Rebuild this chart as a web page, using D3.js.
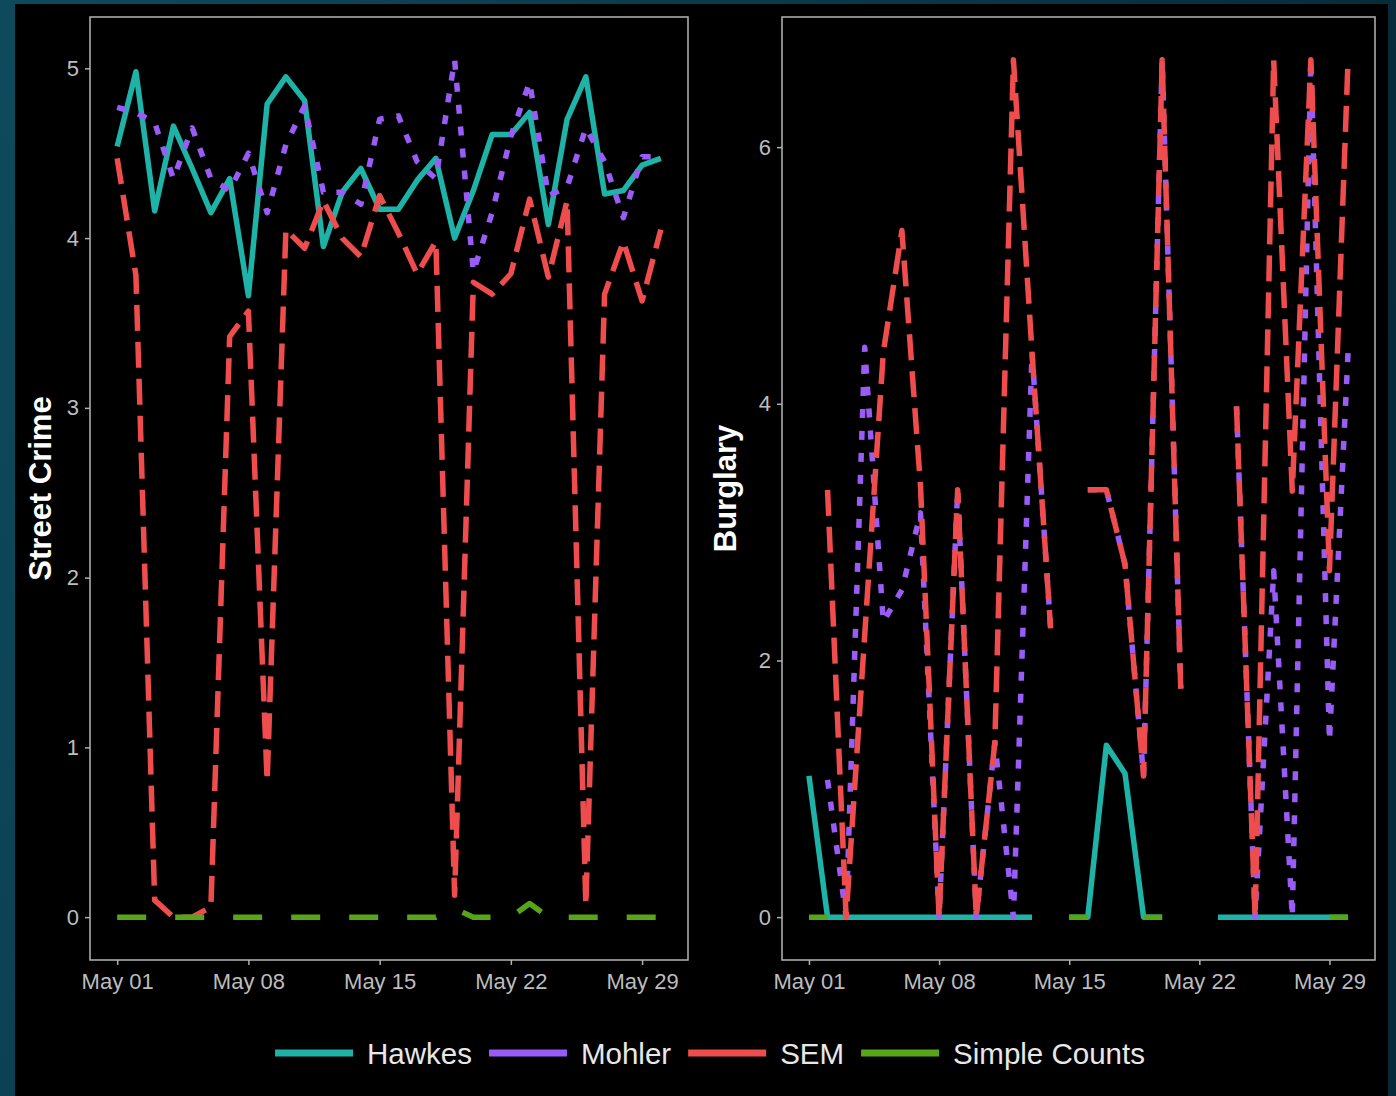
<!DOCTYPE html>
<html>
<head>
<meta charset="utf-8">
<script src="https://cdn.jsdelivr.net/npm/d3@7"></script>
<style>
  html, body { margin: 0; padding: 0; background: #000; }
  svg { display: block; font-family: "Liberation Sans", Arial, sans-serif; }
</style>
</head>
<body>
<div id="chart"></div>
<script>
const canvas = { w: 1396, h: 1096 };

// one value per day, May 01 .. May 30 (null = no estimate)
const dates = d3.timeDay.range(new Date(2020, 4, 1), new Date(2020, 4, 31));
const tickDates = [1, 8, 15, 22, 29].map(d => new Date(2020, 4, d));

const methods = ["Hawkes", "Mohler", "SEM", "Simple Counts"];
const colors = ["#1fb3a8", "#9a5cf6", "#ef4d4d", "#57a61a"];
const dashes = [null, "9,13", "26,11", "29,29"];

const streetHawkes = [4.54, 4.98, 4.16, 4.66, 4.41, 4.15, 4.35, 3.66, 4.79, 4.95, 4.81, 3.95, 4.27, 4.41, 4.17,
  4.17, 4.34, 4.47, 4.0, 4.28, 4.61, 4.61, 4.74, 4.08, 4.7, 4.95, 4.26, 4.28, 4.43, 4.47];
const streetMohler = [4.77, 4.74, 4.68, 4.35, 4.65, 4.35, 4.28, 4.5, 4.15, 4.55, 4.78, 4.27, 4.27, 4.2, 4.7,
  4.72, 4.45, 4.35, 5.05, 3.8, 4.15, 4.6, 4.92, 4.25, 4.3, 4.65, 4.45, 4.12, 4.48, 4.48];
const streetSEM = [4.47, 3.78, 0.1, 0, 0, 0.06, 3.42, 3.57, 0.8, 4.05, 3.94, 4.22, 4.0, 3.89, 4.25,
  4.03, 3.79, 3.98, 0.13, 3.74, 3.67, 3.79, 4.23, 3.77, 4.22, 0.07, 3.67, 3.98, 3.63, 4.05];
const streetCounts = [0, 0, 0, 0, 0, 0, 0, 0, 0, 0, 0, 0, 0, 0, 0,
  0, 0, 0, 0.05, 0, 0, 0, 0.08, 0, 0, 0, 0, 0, 0, 0];

const burglaryHawkes = [1.1, 0, 0, 0, 0, 0, 0, 0, 0, 0, 0, 0, 0, null, 0,
  0, 1.34, 1.12, 0, 0, null, null, 0, 0, 0, 0, 0, 0, 0, 0];
const burglaryMohler = [null, 1.07, 0, 4.44, 2.3, 2.55, 3.15, 0, 3.33, 0, 1.36, 0, 4.4, 2.25, null,
  3.33, 3.33, 2.75, 1.1, 6.68, 1.78, null, null, 3.98, 0, 2.7, 0, 6.68, 1.37, 4.4];
const burglarySEM = [null, 3.33, 0, 2.2, 4.4, 5.35, 3.36, 0, 3.33, 0, 1.36, 6.68, 4.4, 2.25, null,
  3.33, 3.33, 2.75, 1.1, 6.68, 1.78, null, null, 3.98, 0, 6.68, 3.32, 6.68, 2.7, 6.68];
const burglaryCounts = [0, 0, null, null, null, null, null, null, null, null, null, null, null, null, 0,
  0, null, null, 0, 0, null, null, null, null, null, null, null, null, 0, 0];

const panels = [
  { title: "Street Crime", left: 90, right: 688, titleX: 51, yTicks: [0, 1, 2, 3, 4, 5],
    series: [streetHawkes, streetMohler, streetSEM, streetCounts] },
  { title: "Burglary", left: 782, right: 1375, titleX: 736, yTicks: [0, 2, 4, 6],
    series: [burglaryHawkes, burglaryMohler, burglarySEM, burglaryCounts] }
];
const plotTop = 17, plotBottom = 960;

const svg = d3.select("#chart")
  .append("svg")
  .attr("width", canvas.w)
  .attr("height", canvas.h);

const grad = svg.append("defs").append("linearGradient")
  .attr("id", "bg")
  .attr("x1", 0).attr("y1", 0).attr("x2", 1).attr("y2", 0.3);
grad.append("stop").attr("offset", 0).attr("stop-color", "#0e4a5d");
grad.append("stop").attr("offset", 1).attr("stop-color", "#062a39");

svg.append("rect").attr("width", canvas.w).attr("height", canvas.h).attr("fill", "url(#bg)");
svg.append("rect")
  .attr("x", 15).attr("y", 4)
  .attr("width", 1373).attr("height", canvas.h - 4)
  .attr("fill", "#000");

const xPad = (dates[dates.length - 1] - dates[0]) * 0.05;

panels.forEach(p => {
  const x = d3.scaleTime()
    .domain([new Date(+dates[0] - xPad), new Date(+dates[dates.length - 1] + xPad)])
    .range([p.left, p.right]);

  const maxV = d3.max(p.series.flat());
  const y = d3.scaleLinear()
    .domain([-maxV * 0.05, maxV * 1.05])
    .range([plotBottom, plotTop]);

  const g = svg.append("g");

  const xAxis = g.append("g")
    .attr("transform", `translate(0,${plotBottom})`)
    .call(d3.axisBottom(x).tickValues(tickDates).tickFormat(d3.timeFormat("%b %d")).tickSize(5).tickPadding(8));
  const yAxis = g.append("g")
    .attr("transform", `translate(${p.left},0)`)
    .call(d3.axisLeft(y).tickValues(p.yTicks).tickFormat(d3.format("d")).tickSize(5).tickPadding(6));

  [xAxis, yAxis].forEach(a => {
    a.select(".domain").remove();
    a.selectAll(".tick line").attr("stroke", "#b0b0b0").attr("stroke-width", 1.5);
    a.selectAll(".tick text")
      .attr("fill", "#bdbdbd")
      .style("font-size", "22px")
      .style("font-family", "'Liberation Sans', Arial, sans-serif");
  });

  g.append("rect")
    .attr("x", p.left).attr("y", plotTop)
    .attr("width", p.right - p.left).attr("height", plotBottom - plotTop)
    .attr("fill", "none")
    .attr("stroke", "#b5b5b5")
    .attr("stroke-width", 1.5);

  const line = d3.line()
    .defined(d => d.v != null)
    .x(d => x(d.date))
    .y(d => y(d.v));

  p.series.forEach((vals, i) => {
    g.append("path")
      .datum(vals.map((v, k) => ({ date: dates[k], v: v })))
      .attr("fill", "none")
      .attr("stroke", colors[i])
      .attr("stroke-width", 5.5)
      .attr("stroke-dasharray", dashes[i])
      .attr("stroke-linejoin", "round")
      .attr("d", line);
  });

  g.append("text")
    .attr("transform", `translate(${p.titleX},${(plotTop + plotBottom) / 2}) rotate(-90)`)
    .attr("text-anchor", "middle")
    .attr("fill", "#ffffff")
    .style("font-size", "31px")
    .style("font-weight", "bold")
    .text(p.title);
});

// legend along the bottom
const legend = svg.append("g");
const items = legend.selectAll("g")
  .data(methods)
  .join("g");
items.append("rect")
  .attr("width", 78).attr("height", 7)
  .attr("y", 1049.5)
  .attr("fill", (d, i) => colors[i]);
items.append("text")
  .attr("x", 92).attr("y", 1064)
  .attr("fill", "#e8e8e8")
  .style("font-size", "29.5px")
  .text(d => d);

let cursor = 0;
const offsets = [];
items.each(function () {
  offsets.push(cursor);
  cursor += 92 + this.querySelector("text").getComputedTextLength() + 17;
});
const legendW = cursor - 17;
const legendX = 710 - legendW / 2;
items.attr("transform", (d, i) => `translate(${legendX + offsets[i]},0)`);
</script>
</body>
</html>
